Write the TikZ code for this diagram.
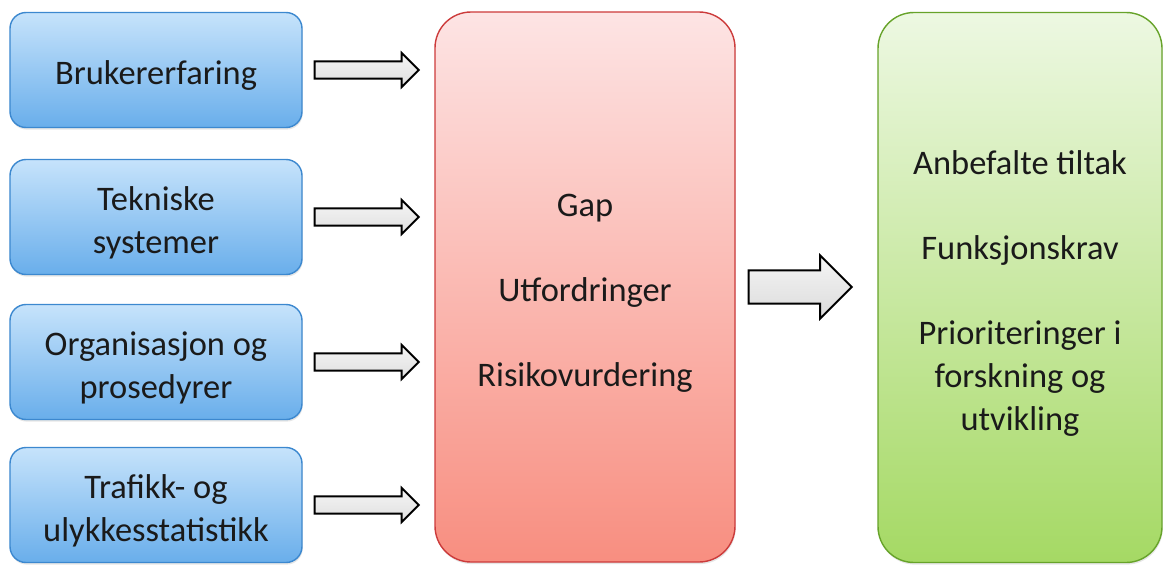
\documentclass[tikz,border=0pt]{standalone}
\usepackage{fontspec}
\setmainfont{Carlito}
\usetikzlibrary{positioning,shapes.arrows,shadows}

\definecolor{blueTop}{HTML}{C6E3FB}
\definecolor{blueBot}{HTML}{69AEEB}
\definecolor{blueEdge}{HTML}{3C88CF}
\definecolor{redTop}{HTML}{FDE4E4}
\definecolor{redBot}{HTML}{F88E80}
\definecolor{redEdge}{HTML}{CC3B3B}
\definecolor{greenTop}{HTML}{EDF8E2}
\definecolor{greenBot}{HTML}{A5D964}
\definecolor{greenEdge}{HTML}{67A32A}
\definecolor{ink}{HTML}{1A1A1A}

% raise the top of the first line a little
\newcommand{\toprow}{\rule{0pt}{25pt}}

\tikzstyle{boxtext} = [text=ink, align=center, font=\fontsize{24.5}{30.5}\selectfont]
\tikzstyle{source} = [boxtext, draw=blueEdge, line width=1pt, rectangle,
    rounded corners=0.4cm, top color=blueTop, bottom color=blueBot,
    minimum width=7.3cm, minimum height=2.875cm,
    drop shadow={opacity=0.2, shadow xshift=0.5pt, shadow yshift=-1.5pt}]
\tikzstyle{bigbox} = [boxtext, line width=1pt, rectangle,
    rounded corners=0.9cm, minimum height=13.75cm,
    drop shadow={opacity=0.2, shadow xshift=0.5pt, shadow yshift=-1.5pt}]
\tikzstyle{feed} = [single arrow, draw=black, line width=1.4pt,
    top color=gray!8, bottom color=gray!25,
    minimum height=2.6cm, inner xsep=0pt, inner ysep=0.19cm,
    single arrow head extend=0.21cm]
\tikzstyle{result} = [single arrow, draw=black, line width=1.4pt,
    top color=gray!8, bottom color=gray!28,
    minimum height=2.575cm, inner xsep=0pt, inner ysep=0.39cm,
    single arrow head extend=0.375cm]

\begin{document}
\begin{tikzpicture}[auto]
    \useasboundingbox (0,0) rectangle (29.075,14.1);

    % inputs
    \node [source] at (3.9,12.35) (bruker) {\toprow Brukererfaring};
    \node [source] at (3.9,8.675) (teknisk) {\toprow Tekniske\\systemer};
    \node [source] at (3.9,5.05) (org) {\toprow Organisasjon og\\prosedyrer};
    \node [source] at (3.9,1.475) (trafikk) {\toprow Trafikk- og\\ulykkesstatistikk};

    \node [bigbox, draw=redEdge, top color=redTop, bottom color=redBot,
        minimum width=7.5cm] at (14.625,6.925) (gap)
        {\toprow Gap\\[30pt]Utfordringer\\[30pt]Risikovurdering};
    \node [bigbox, draw=greenEdge, top color=greenTop, bottom color=greenBot,
        minimum width=7.1cm] at (25.5,6.9125) (tiltak)
        {\toprow Anbefalte tiltak\\[30pt]Funksjonskrav\\[30pt]Prioriteringer i\\forskning og\\utvikling};

    \node [feed, right=0.275cm of bruker] (a1) {};
    \node [feed, right=0.275cm of teknisk] (a2) {};
    \node [feed, right=0.275cm of org] (a3) {};
    \node [feed, right=0.275cm of trafikk] (a4) {};
    \node [result, right=0.3cm of gap] (a5) {};
\end{tikzpicture}
\end{document}
